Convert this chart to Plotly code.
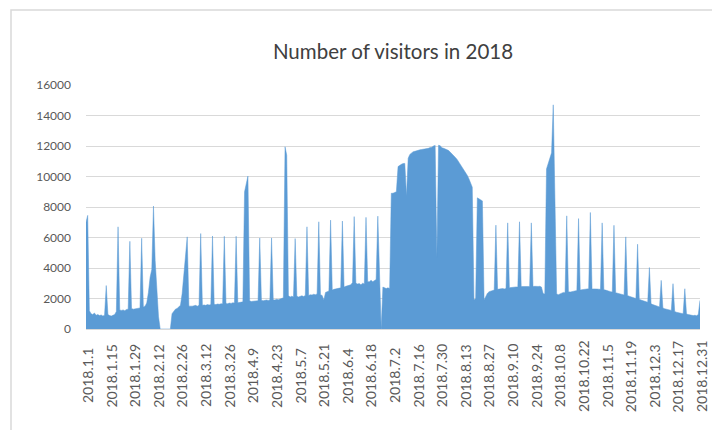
import pandas as pd
import plotly.graph_objects as go

# Daily visitor counts for 2018, one row per week (Monday to Sunday)
visitors = [
    7000, 7450, 1200, 1000, 950, 1050, 900,
    950, 880, 920, 850, 900, 2850, 950,
    880, 850, 900, 950, 1150, 6700, 1250,
    1220, 1250, 1200, 1280, 1300, 5750, 1350,
    1300, 1320, 1350, 1400, 1380, 5950, 1450,
    1500, 1700, 2400, 3400, 3900, 8060, 4500,
    2600, 800, 0, 0, 0, 0, 0,
    0, 0, 1000, 1200, 1300, 1350, 1450,
    1550, 2320, 3630, 4950, 6040, 1500, 1480,
    1500, 1520, 1550, 1500, 1560, 6260, 1550,
    1580, 1550, 1600, 1570, 1600, 6100, 1620,
    1600, 1640, 1620, 1650, 1660, 6080, 1680,
    1660, 1700, 1680, 1720, 1700, 6080, 1720,
    1740, 1760, 1780, 9000, 9500, 10030, 1850,
    1800, 1820, 1850, 1830, 1860, 5970, 1880,
    1850, 1880, 1900, 1870, 1900, 5970, 1920,
    1900, 1950, 1920, 1980, 2000, 2050, 11950,
    11400, 2200, 2100, 2150, 2100, 5930, 2150,
    2100, 2150, 2180, 2130, 2200, 6700, 2200,
    2250, 2230, 2280, 2250, 2300, 7030, 2250,
    2200, 1900, 2400, 2450, 2500, 7140, 2550,
    2600, 2620, 2650, 2640, 2700, 7080, 2750,
    2800, 2850, 2880, 2900, 3050, 7370, 3000,
    2950, 2980, 2900, 3000, 2950, 7320, 3100,
    3100, 3200, 3100, 3150, 3250, 7400, 2900,
    0, 2750, 2700, 2650, 2700, 2650, 8900,
    8900, 8950, 9000, 10650, 10750, 10800, 10850,
    10860, 8700, 11200, 11450, 11550, 11630, 11650,
    11700, 11740, 11750, 11770, 11780, 11800, 11820,
    11850, 11900, 11920, 12000, 12040, 4700, 12050,
    12020, 11880, 11850, 11820, 11760, 11700, 11600,
    11480, 11380, 11250, 11120, 10950, 10800, 10650,
    10450, 10280, 10080, 9850, 9550, 9300, 1900,
    2000, 8600, 8550, 8500, 8400, 1900, 2150,
    2350, 2450, 2500, 2520, 2550, 6810, 2600,
    2620, 2640, 2650, 2630, 2660, 6960, 2700,
    2720, 2750, 2740, 2760, 2750, 7030, 2780,
    2790, 2800, 2780, 2800, 2790, 6960, 2780,
    2800, 2820, 2790, 2800, 2750, 2320, 2300,
    10500, 10900, 11300, 11550, 14700, 9000, 2300,
    2250, 2300, 2350, 2400, 2380, 7420, 2450,
    2420, 2450, 2480, 2500, 2520, 7240, 2550,
    2580, 2600, 2620, 2600, 2640, 7640, 2620,
    2630, 2600, 2620, 2610, 2600, 6960, 2580,
    2550, 2500, 2480, 2450, 2420, 6800, 2380,
    2350, 2300, 2270, 2250, 2230, 6040, 2200,
    2150, 2100, 2080, 2050, 2000, 5560, 1950,
    1900, 1850, 1800, 1780, 1750, 4030, 1650,
    1600, 1550, 1500, 1480, 1450, 3190, 1380,
    1330, 1300, 1280, 1250, 1220, 2970, 1150,
    1100, 1080, 1050, 1020, 1000, 2640, 980,
    950, 920, 900, 880, 900, 870, 950,
    1880,
]

dates = pd.date_range("2018-01-01", "2018-12-31", freq="D")
tick_dates = dates[::14]
tick_labels = [f"{d.year}.{d.month}.{d.day}" for d in tick_dates]
y_ticks = list(range(0, 16001, 2000))

BLUE = "#5B9BD5"
GRID = "#D9D9D9"
TEXT = "#595959"
FONT = "Lato"

fig = go.Figure(
    go.Scatter(
        x=dates,
        y=visitors,
        mode="lines",
        fill="tozeroy",
        fillcolor=BLUE,
        line=dict(color=BLUE, width=0.5),
        hoverinfo="x+y",
    )
)

L, R, T, B = 86, 12, 85, 101
W, H = 712, 430
pw, ph = W - L - R, H - T - B


def px_x(p):
    return (p - L) / pw


def px_y(p):
    return (H - B - p) / ph


# Vertical date labels, centred on a common line below the axis
date_labels = [
    dict(
        x=d,
        xref="x",
        y=px_y(376),
        yref="paper",
        text=t,
        textangle=-90,
        showarrow=False,
        xanchor="center",
        yanchor="middle",
        xshift=1,
        font=dict(family=FONT, size=14, color=TEXT),
    )
    for d, t in zip(tick_dates, tick_labels)
]

fig.update_layout(
    width=W,
    height=H,
    margin=dict(l=L, r=R, t=T, b=B, autoexpand=False),
    paper_bgcolor="white",
    plot_bgcolor="white",
    showlegend=False,
    title=dict(
        text="Number of visitors in 2018",
        font=dict(family=FONT, size=20.5, color="#404040"),
        x=0.5,
        xref="paper",
        xanchor="center",
        y=1 - 52 / H,
        yref="container",
        yanchor="middle",
        automargin=False,
    ),
    xaxis=dict(
        type="date",
        range=[dates[0], dates[-1]],
        tickmode="array",
        tickvals=list(tick_dates),
        showticklabels=False,
        showgrid=False,
        showline=True,
        linecolor=GRID,
        linewidth=1,
        ticks="",
        zeroline=False,
        automargin=False,
    ),
    yaxis=dict(
        range=[0, 16000],
        tickmode="array",
        tickvals=y_ticks,
        ticktext=[str(v) for v in y_ticks],
        tickfont=dict(family=FONT, size=12, color=TEXT),
        showgrid=True,
        gridcolor=GRID,
        gridwidth=1,
        zeroline=False,
        showline=False,
        ticks="",
        ticklabelstandoff=14,
        automargin=False,
    ),
    annotations=date_labels,
    shapes=[
        # chart-area frame
        dict(
            type="rect",
            xref="paper",
            yref="paper",
            x0=px_x(11),
            x1=px_x(730),
            y0=px_y(450),
            y1=px_y(10),
            line=dict(color="#D9D9D9", width=1.5),
            fillcolor="rgba(0,0,0,0)",
            layer="below",
        )
    ],
)

fig.write_html("out.html", config={"displayModeBar": False})
